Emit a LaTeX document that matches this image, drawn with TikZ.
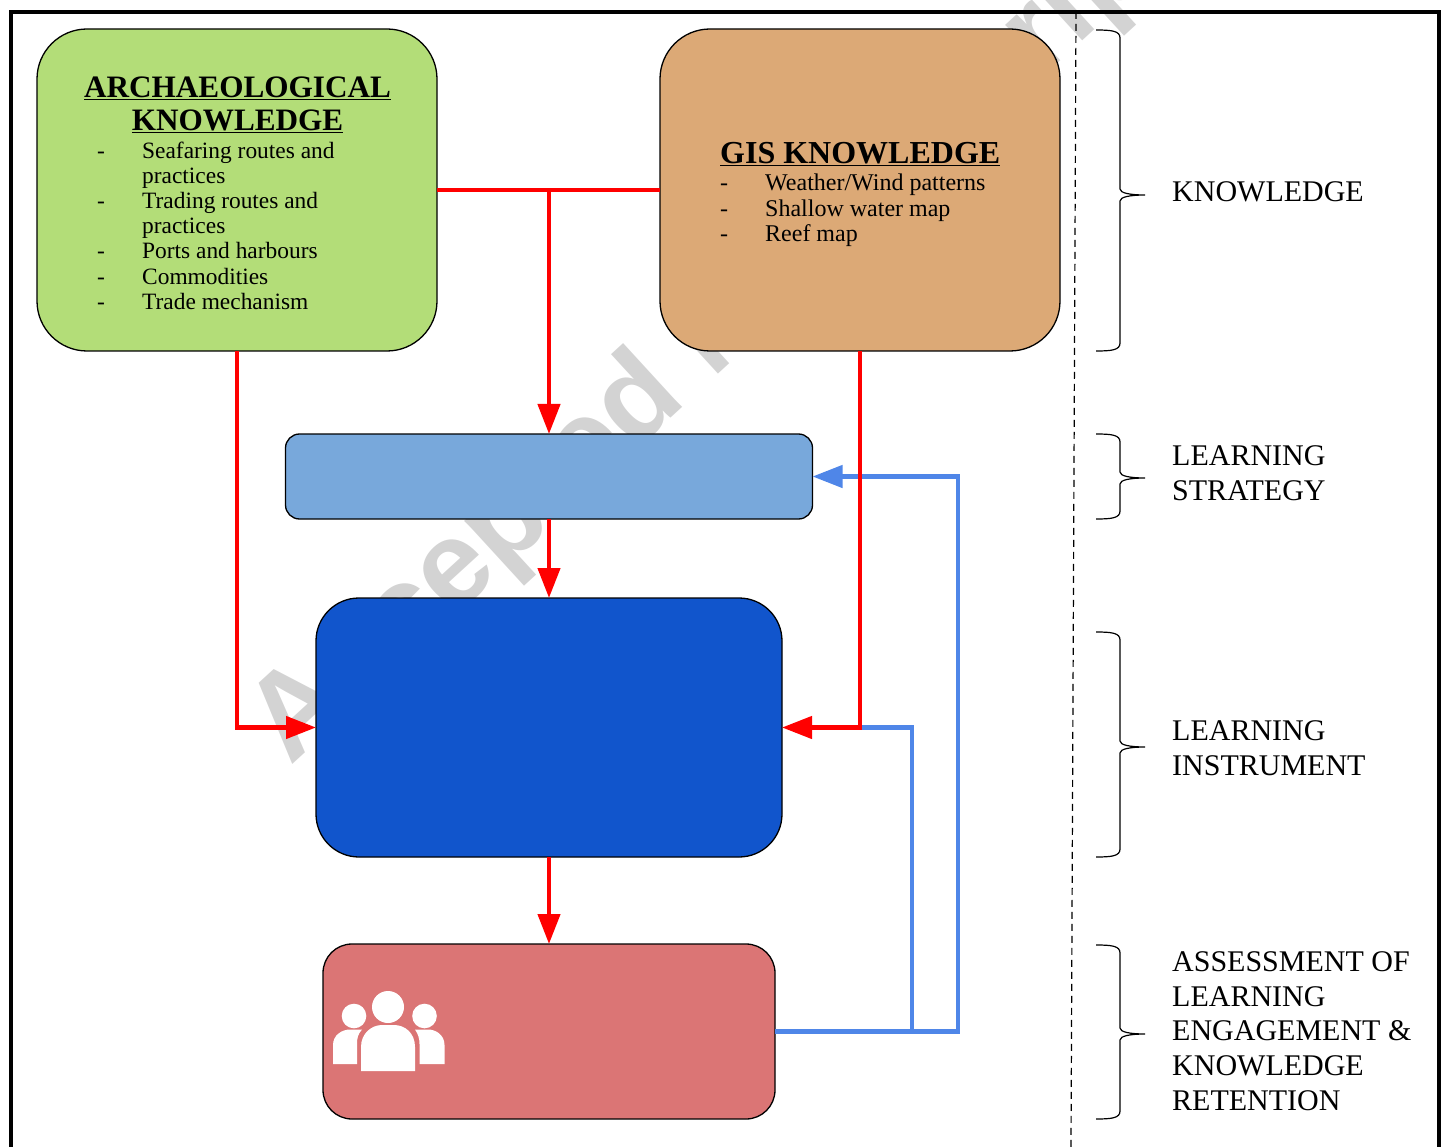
\documentclass[tikz,border=0pt]{standalone}
\usepackage{fontspec}
\setmainfont{Liberation Serif}
\newfontfamily\wmfont{Liberation Sans}
\usetikzlibrary{arrows.meta}
\definecolor{gknow}{HTML}{B3DD78}
\definecolor{bknow}{HTML}{DCA976}
\definecolor{lstrat}{HTML}{78A8DB}
\definecolor{dinst}{HTML}{1155CC}
\definecolor{rassess}{HTML}{DB7575}
\definecolor{fback}{HTML}{4F86E8}
\definecolor{wmark}{HTML}{D3D3D3}
\tikzset{
  x=1pt,y=-1pt,
  boxstyle/.style={draw=black,line width=1.3pt,inner sep=0pt,outer sep=0pt},
  redline/.style={draw=red,line width=4.4pt},
  blueline/.style={draw=fback,line width=4.4pt},
  redarrow/.style={redline,-{Triangle[length=30pt,width=22pt]}},
  bluearrow/.style={blueline,-{Triangle[length=30pt,width=22pt]}},
  titletext/.style={font=\fontsize{31.2}{33}\selectfont\bfseries,inner sep=0pt,align=center},
  listtext/.style={font=\fontsize{23.4}{25.2}\selectfont,inner sep=0pt,align=left,anchor=north west},
  sidetext/.style={font=\fontsize{30}{34.7}\selectfont,inner sep=0pt,align=left,anchor=west},
  bracestyle/.style={draw=black,line width=1.2pt},
  watermark/.style={font=\fontsize{120}{120}\selectfont\wmfont\bfseries,text=wmark,inner sep=0pt,anchor=base west,rotate=42.5},
}
\newcommand{\dsh}{\makebox[45pt][l]{-}}
\newcommand{\nodsh}{\hspace*{45pt}}
\newcommand{\sidebrace}[3]{%
  \draw[bracestyle] (1096,#1) .. controls (1112,#1) and (1120,#1+1) .. (1120,#1+8)
    -- (1120,#3-6) .. controls (1120,#3-2) and (1130,#3) .. (1145,#3)
    .. controls (1130,#3) and (1120,#3+2) .. (1120,#3+6)
    -- (1120,#2-8) .. controls (1120,#2-1) and (1112,#2) .. (1096,#2);}
\begin{document}
\begin{tikzpicture}
\useasboundingbox (0,0) rectangle (1443,1147);
\begin{scope}
\clip (0,0) rectangle (1443,1147);
\node[watermark] (wm) at (290,767) {Accepted Manuscript};
\draw[black,line width=4pt] (10.5,1147) -- (10.5,12) -- (1438.5,12) -- (1438.5,1147);
\draw[black,line width=1.2pt,dash pattern=on 7pt off 5pt] (1076,12) -- (1071,1147);
\end{scope}

% boxes
\node[boxstyle,fill=gknow,rounded corners=50pt,minimum width=400pt,minimum height=322pt] (green) at (237,190) {};
\node[boxstyle,fill=bknow,rounded corners=50pt,minimum width=400pt,minimum height=322pt] (brown) at (860,190) {};
\node[boxstyle,fill=lstrat,rounded corners=14pt,minimum width=527pt,minimum height=85pt] (light) at (549,476.5) {};
\node[boxstyle,fill=dinst,rounded corners=43pt,minimum width=466pt,minimum height=259pt] (blue) at (549,727.5) {};
\node[boxstyle,fill=rassess,rounded corners=29pt,minimum width=452pt,minimum height=175pt] (red) at (549,1031.5) {};

% connectors
\coordinate (fbA) at (958,476.5);
\coordinate (fbB) at (912,727.5);
\draw[blueline] (red.east) -| (fbB) -- (brown.south |- blue.east);
\draw[bluearrow] (red.east) -| (fbA) -- (light.east);
\draw[redline] (green.east) -- (brown.west);
\draw[redarrow] (light.north |- green.east) -- (light.north);
\draw[redarrow] (green.south) |- (blue.west);
\draw[redarrow] (brown.south) |- (blue.east);
\draw[redarrow] (light.south) -- (blue.north);
\draw[redarrow] (blue.south) -- (red.north);

% texts in boxes
\node[titletext] (gtitle) at (237.5,104.5) {\underline{ARCHAEOLOGICAL}\\\underline{KNOWLEDGE}};
\node[listtext] (glist) at (97,141.5) {\dsh Seafaring routes and\\\nodsh practices\\\dsh Trading routes and\\\nodsh practices\\\dsh Ports and harbours\\\dsh Commodities\\\dsh Trade mechanism};
\node[titletext,anchor=west,font=\fontsize{32}{33}\selectfont\bfseries] (btitle) at (720,154) {\underline{GIS KNOWLEDGE}};
\node[listtext,font=\fontsize{24}{25.2}\selectfont] (blist) at (720,174) {\dsh Weather/Wind patterns\\\dsh Shallow water map\\\dsh Reef map};

% people icon
\fill[white] (388,1007) circle[radius=16];
\fill[white] (354,1016) circle[radius=12.3];
\fill[white] (424.5,1016) circle[radius=12.3];
\fill[white] (333,1064) -- (333,1045) .. controls (333,1035) and (342,1029.5) .. (350,1029.5) -- (362,1029.5)
  .. controls (358,1034) and (357,1038) .. (357,1044) -- (357,1064) -- cycle;
\fill[white] (444.5,1064) -- (444.5,1045) .. controls (444.5,1035) and (436,1029.5) .. (428,1029.5) -- (415,1029.5)
  .. controls (418,1034) and (419.5,1038) .. (419.5,1044) -- (419.5,1064) -- cycle;
\fill[white] (361,1071) -- (361,1047) .. controls (361,1033) and (372,1025) .. (382,1025) -- (394,1025)
  .. controls (405,1025) and (415,1033) .. (415,1047) -- (415,1071) -- cycle;

% side braces and labels
\sidebrace{30}{351}{195}
\sidebrace{434}{519}{478}
\sidebrace{632}{857}{747}
\sidebrace{945}{1119}{1034}
\node[sidetext] (k) at (1172,192) {KNOWLEDGE};
\node[sidetext] (s) at (1172,473) {LEARNING\\STRATEGY};
\node[sidetext] (i) at (1172,748) {LEARNING\\INSTRUMENT};
\node[sidetext] (a) at (1172,1031) {ASSESSMENT OF\\LEARNING\\ENGAGEMENT \&\\KNOWLEDGE\\RETENTION};
\end{tikzpicture}
\end{document}
